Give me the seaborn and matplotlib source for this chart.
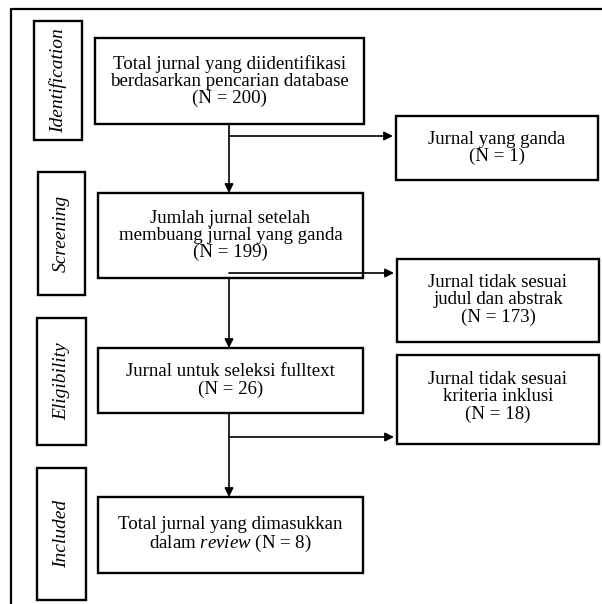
import numpy as np
import pandas as pd
import seaborn as sns
import matplotlib.pyplot as plt
from matplotlib.patches import Rectangle

# data: stages of the PRISMA flow
phases = ['Identification', 'Screening', 'Eligibility', 'Included']
main_labels = ['Total jurnal yang diidentifikasi\nberdasarkan pencarian database',
               'Jumlah jurnal setelah\nmembuang jurnal yang ganda',
               'Jurnal untuk seleksi fulltext',
               'Total jurnal yang dimasukkan\ndalam $\\mathit{review}$']
main_n = [200, 199, 26, 8]
excl_labels = ['Jurnal yang ganda', 'Jurnal tidak sesuai\njudul dan abstrak',
               'Jurnal tidak sesuai\nkriteria inklusi']
excl_n = [1, 173, 18]

# layout (pixels, y downward)
phase_box = [(34, 21, 82, 140), (38, 172, 85, 295), (37, 318, 86, 445), (37, 468, 86, 600)]
main_box = [(95, 38, 364, 124), (98, 193, 363, 278), (98, 348, 363, 413), (98, 497, 363, 573)]
excl_box = [(396, 116, 598, 180), (397, 259, 599, 342), (397, 355, 599, 444)]
branch_y = [136, 273, 437]
excl_text_y = [148, 300, 397]
stem_x = 229


def flow():
    sns.set_theme(style='white')
    plt.rcParams['font.family'] = ['Liberation Serif', 'DejaVu Serif']
    plt.rcParams['text.color'] = 'black'
    plt.rcParams['mathtext.fontset'] = 'custom'
    plt.rcParams['mathtext.rm'] = 'Liberation Serif'
    plt.rcParams['mathtext.it'] = 'Liberation Serif:italic'

    fig = plt.figure(figsize=(6.02, 6.04), dpi=100)
    ax = fig.add_axes([0, 0, 1, 1])
    ax.set_xlim(0, 602)
    ax.set_ylim(604, 0)
    ax.axis('off')

    # outer frame
    ax.plot([11, 700], [9, 9], color='black', lw=1.6)
    ax.plot([11, 11], [9, 700], color='black', lw=1.6)

    def box(b):
        x0, y0, x1, y1 = b
        ax.add_patch(Rectangle((x0, y0), x1 - x0, y1 - y0, fill=False,
                               edgecolor='black', lw=1.7))

    for name, b in zip(phases, phase_box):
        box(b)
        ax.text((b[0] + b[2]) / 2, (b[1] + b[3]) / 2, name, rotation=90,
                ha='center', va='center', fontsize=14, style='italic',
                color='black')

    for i, (lab, n, b) in enumerate(zip(main_labels, main_n, main_box)):
        box(b)
        if i == 3:
            txt = lab + ' (N = %d)' % n
        else:
            txt = lab + '\n(N = %d)' % n
        ax.text((b[0] + b[2]) / 2, (b[1] + b[3]) / 2, txt, ha='center',
                va='center', fontsize=13.6, linespacing=1.0, color='black')

    for lab, n, b, ty in zip(excl_labels, excl_n, excl_box, excl_text_y):
        box(b)
        ax.text((b[0] + b[2]) / 2, ty, lab + '\n(N = %d)' % n, ha='center',
                va='center', fontsize=13.6, linespacing=1.0, color='black')

    ap = dict(arrowstyle='-|>', mutation_scale=13, lw=1.2, color='black',
              shrinkA=0, shrinkB=0)
    # vertical arrows between main boxes
    for a, b in zip(main_box[:-1], main_box[1:]):
        ax.annotate('', xy=(stem_x, b[1]), xytext=(stem_x, a[3]), arrowprops=ap)
    # side branches
    for y, b in zip(branch_y, excl_box):
        ax.annotate('', xy=(b[0] - 3, y), xytext=(stem_x, y), arrowprops=ap)

    fig.savefig('out.png', dpi=100)


if __name__ == '__main__':
    flow()
